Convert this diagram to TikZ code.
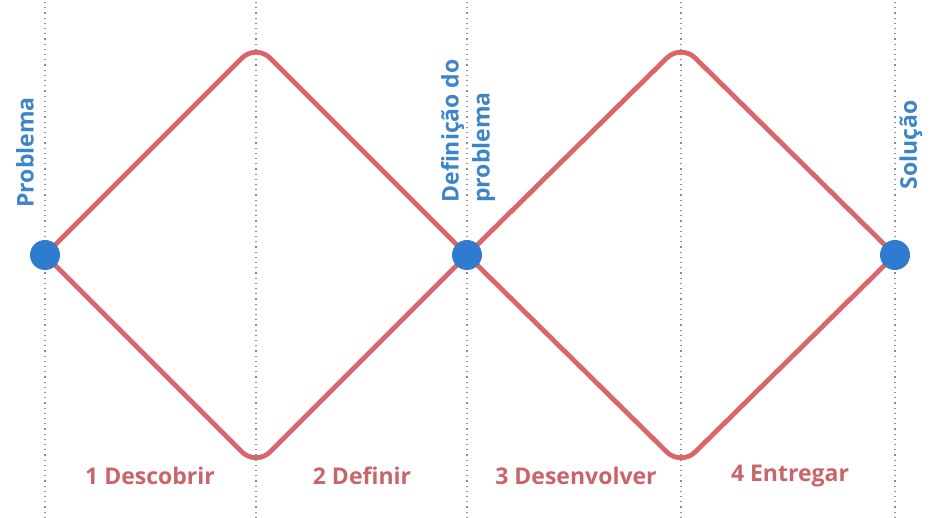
\documentclass[tikz,border=0pt]{standalone}
\usepackage{fontspec}
\setmainfont{Open Sans}
\usetikzlibrary{backgrounds}
\definecolor{dvred}{HTML}{D9676A}
\definecolor{dvlabel}{HTML}{C9646B}
\definecolor{dvblue}{HTML}{2F7BCF}
\definecolor{dvtext}{HTML}{3D85C8}
\begin{document}
\begin{tikzpicture}[x=0.5pt,y=0.5pt,
  every node/.style={font=\fontsize{11.5}{15.5}\selectfont\bfseries,inner sep=0pt},
  guide/.style={dotted,black!45,line width=0.6pt},
  wing/.style={dvred,line width=2.4pt,rounded corners=10pt,line join=round},
  dot/.style={circle,fill=dvblue,minimum size=15pt},
  stage/.style={text=dvlabel},
  tag/.style={text=dvtext,rotate=90,anchor=west,align=left}]
\useasboundingbox (0,0) rectangle (930,518);
% dotted column guides
\foreach \x in {45,256,467,681,895}
  \draw[guide] (\x,0) -- (\x,518);
% milestones
\node[dot] (prob) at (45,263) {};
\node[dot] (def) at (467,263) {};
\node[dot] (sol) at (895,263) {};
\coordinate (t1) at (256,474);
\coordinate (b1) at (256,52);
\coordinate (t2) at (681,474);
\coordinate (b2) at (681,52);
% the two diamonds, under the dots
\begin{scope}[on background layer]
\draw[wing] (prob.center) -- (t1) -- (def.center);
\draw[wing] (prob.center) -- (b1) -- (def.center);
\draw[wing] (def.center) -- (t2) -- (sol.center);
\draw[wing] (def.center) -- (b2) -- (sol.center);
\end{scope}
\node[tag] (lprob) at (25,310) {Problema};
\node[tag] (ldef) at (468,315) {Definição do\\problema};
\node[tag] (lsol) at (911,328) {Solução};
% stages
\node[stage] (s1) at (150,42) {1 Descobrir};
\node[stage] (s2) at (362,42) {2 Definir};
\node[stage] (s3) at (576,42) {3 Desenvolver};
\node[stage] (s4) at (790,42) {4 Entregar};
\end{tikzpicture}
\end{document}
